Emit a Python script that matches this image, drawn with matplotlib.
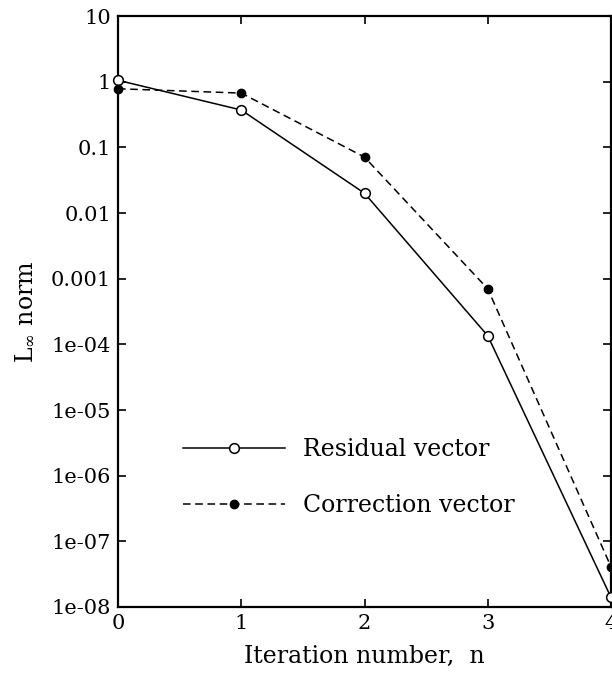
import numpy as np
import matplotlib.pyplot as plt

plt.rcParams['font.family'] = ['DejaVu Serif']
plt.rcParams['mathtext.fontset'] = 'dejavuserif'

iters = [0, 1, 2, 3, 4]
residual = [1.05, 0.37, 0.020, 1.35e-4, 1.4e-8]
correction = [0.78, 0.67, 0.071, 7.0e-4, 4.1e-8]
ytick_vals = [1e-8, 1e-7, 1e-6, 1e-5, 1e-4, 1e-3, 1e-2, 1e-1, 1, 10]
ytick_labels = ['1e-08', '1e-07', '1e-06', '1e-05', '1e-04',
                '0.001', '0.01', '0.1', '1', '10']

fig = plt.figure(figsize=(6.12, 6.74), dpi=100)
ax = fig.add_axes([118/612, 1-607/674, 493/612, 591/674])

ax.plot(iters, residual, 'k-', lw=1.1, marker='o', ms=7, mfc='white',
        mec='black', mew=1.1, label='Residual vector', clip_on=False, zorder=3)
ax.plot(iters, correction, 'k--', lw=1.1, dashes=(5, 3), marker='o', ms=6,
        mfc='black', mec='black', label='Correction vector', clip_on=False, zorder=3)

ax.set_yscale('log')
ax.set_xlim(0, 4)
ax.set_ylim(1e-8, 10)
ax.set_yticks(ytick_vals)
ax.set_yticklabels(ytick_labels)
ax.set_xticks(iters)
ax.tick_params(which='major', direction='in', length=6, width=1.2,
               labelsize=15, top=True, right=True, pad=5)
ax.tick_params(which='minor', direction='in', length=3, width=0.8,
               top=False, right=True)
for s in ax.spines.values():
    s.set_linewidth(1.6)

ax.set_xlabel('Iteration number,  n', fontsize=17, labelpad=9)
ax.set_ylabel(r'L$_{\infty}$ norm', fontsize=17, labelpad=10)

ax.legend(loc='center left', bbox_to_anchor=(0.132, 0.219), frameon=False,
          fontsize=17, handlelength=4.3, labelspacing=1.4, handletextpad=0.76,
          borderpad=0, borderaxespad=0)

fig.savefig('out.png', dpi=100)
